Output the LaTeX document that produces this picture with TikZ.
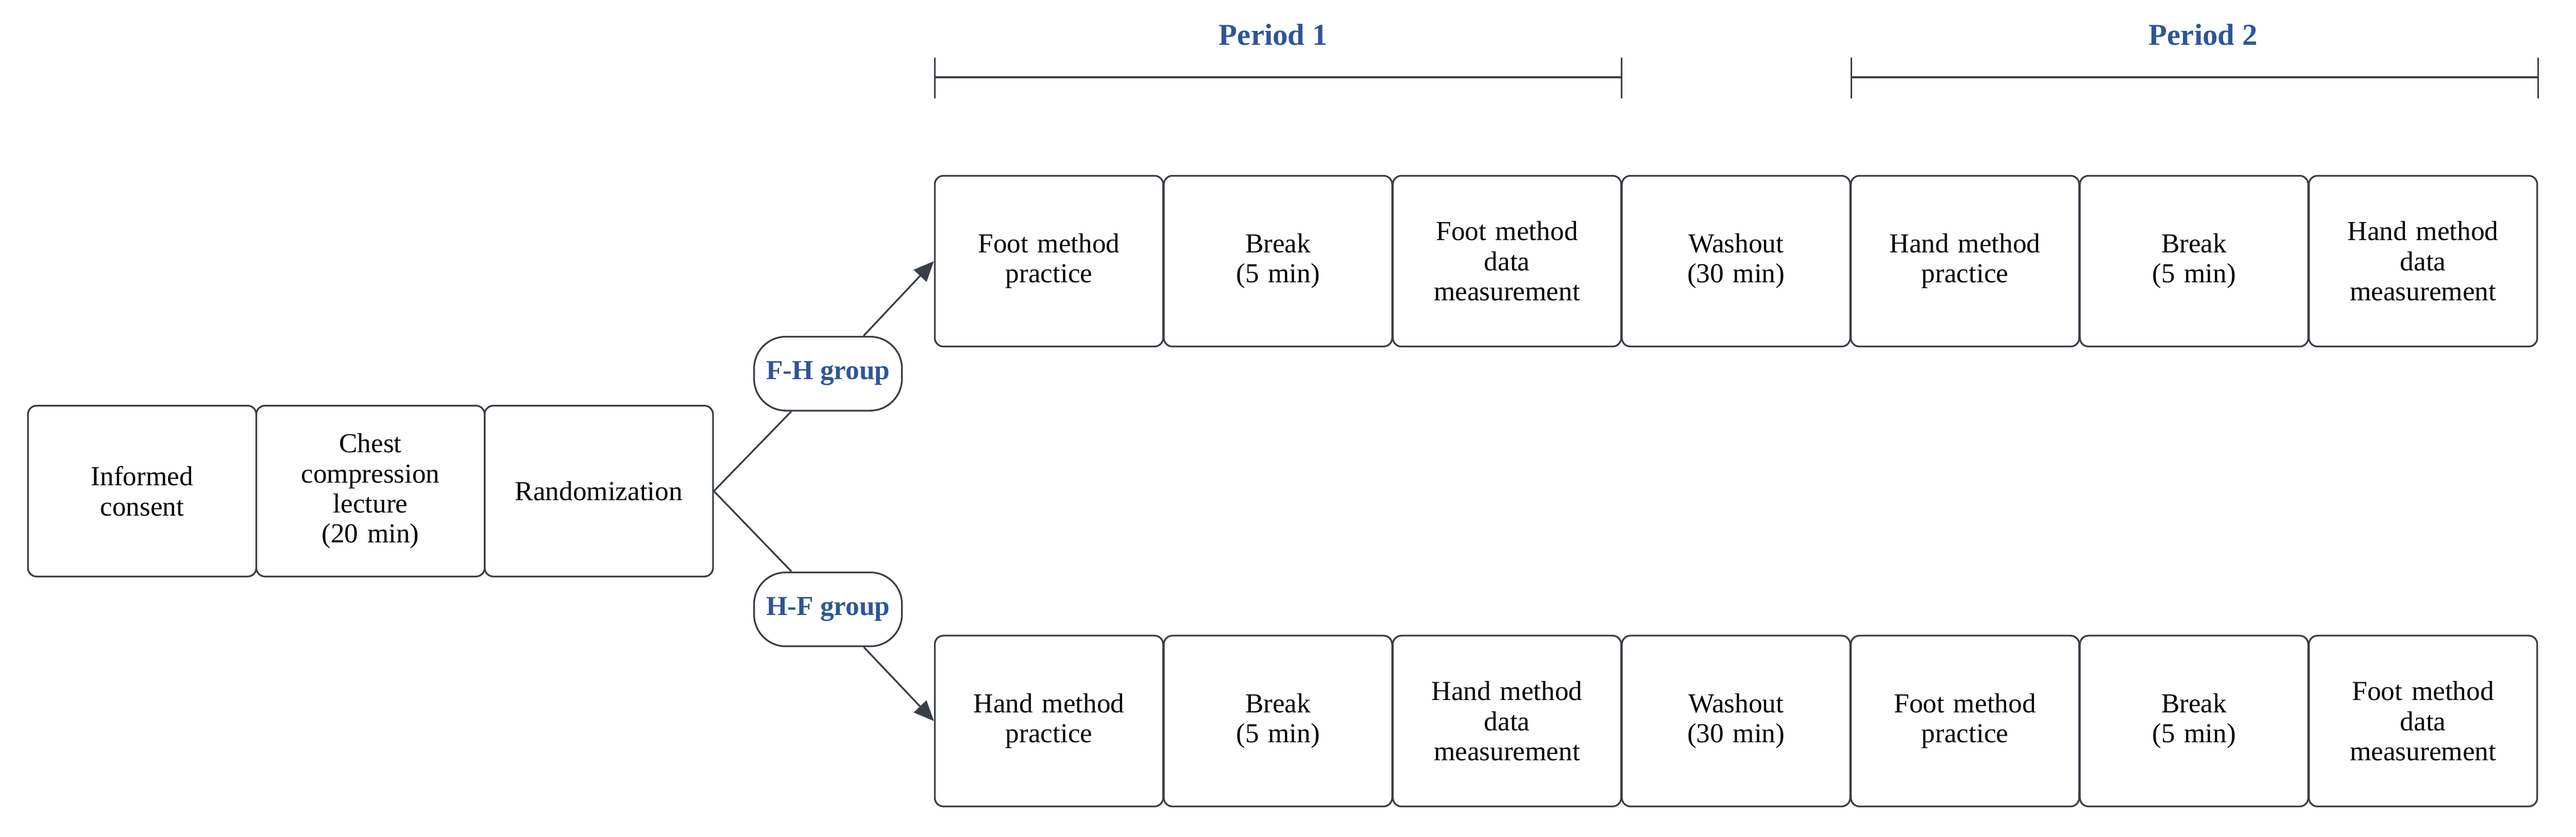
\documentclass[tikz,border=0pt]{standalone}
\usepackage{fontspec}
\setmainfont{Liberation Serif}
\usetikzlibrary{arrows.meta}
\definecolor{ln}{HTML}{3A3F47}
\definecolor{bl}{HTML}{2E5597}
\begin{document}
\begin{tikzpicture}[x=0.02cm,y=-0.02cm,
  bx/.style={draw=ln,line width=0.6pt,rounded corners=3pt,minimum width=139*0.02cm,minimum height=104*0.02cm,align=center,font=\fontsize{9.5}{10.4}\selectfont,inner sep=1pt,text width=2.5cm},
  pill/.style={draw=ln,line width=0.6pt,rounded corners=11pt,minimum width=90*0.02cm,minimum height=45*0.02cm,text=bl,font=\fontsize{9.5}{11}\selectfont\bfseries,inner sep=1pt},
  ttl/.style={text=bl,font=\fontsize{10.5}{12}\selectfont\bfseries},
  ln/.style={draw=ln,line width=0.6pt},
  arr/.style={ln,-{Triangle[length=7pt,width=6pt]}}]
\useasboundingbox (0,0) rectangle (1568,509.6);
\node[bx] (a1) at (86.5,299) {Informed\\consent};
\node[bx] (a2) at (225.5,299) {Chest\\compression\\lecture\\(20 min)};
\node[bx] (a3) at (364.5,299) {Randomization};
\foreach \i/\t/\b [count=\k] in {
 {Foot method\\practice}/{Hand method\\practice}/,
 {Break\\(5 min)}/{Break\\(5 min)}/,
 {Foot method\\data\\measurement}/{Hand method\\data\\measurement}/,
 {Washout\\(30 min)}/{Washout\\(30 min)}/,
 {Hand method\\practice}/{Foot method\\practice}/,
 {Break\\(5 min)}/{Break\\(5 min)}/,
 {Hand method\\data\\measurement}/{Foot method\\data\\measurement}/}{
 \node[bx] (t\k) at ({638.5+139.4*(\k-1)},159) {\i};
 \node[bx] (b\k) at ({638.5+139.4*(\k-1)},439) {\t};
}
\node[pill] (fh) at (504,227.5) {F-H group};
\node[pill] (hf) at (504,371) {H-F group};
\draw[ln] (a3.east) -- (fh);
\draw[ln] (a3.east) -- (hf);
\draw[arr] (fh) -- (t1.west);
\draw[arr] (hf) -- (b1.west);
\coordinate (p1a) at (569,47); \coordinate (p1b) at (987,47);
\coordinate (p2a) at (1127,47); \coordinate (p2b) at (1545,47);
\draw[ln] (p1a) -- (p1b); \draw[ln] (569,35) -- (569,60); \draw[ln] (987,35) -- (987,60);
\draw[ln] (p2a) -- (p2b); \draw[ln] (1127,35) -- (1127,60); \draw[ln] (1545,35) -- (1545,60);
\node[ttl] (P1) at (775,21) {Period 1};
\node[ttl] (P2) at (1341,21) {Period 2};
\end{tikzpicture}
\end{document}
